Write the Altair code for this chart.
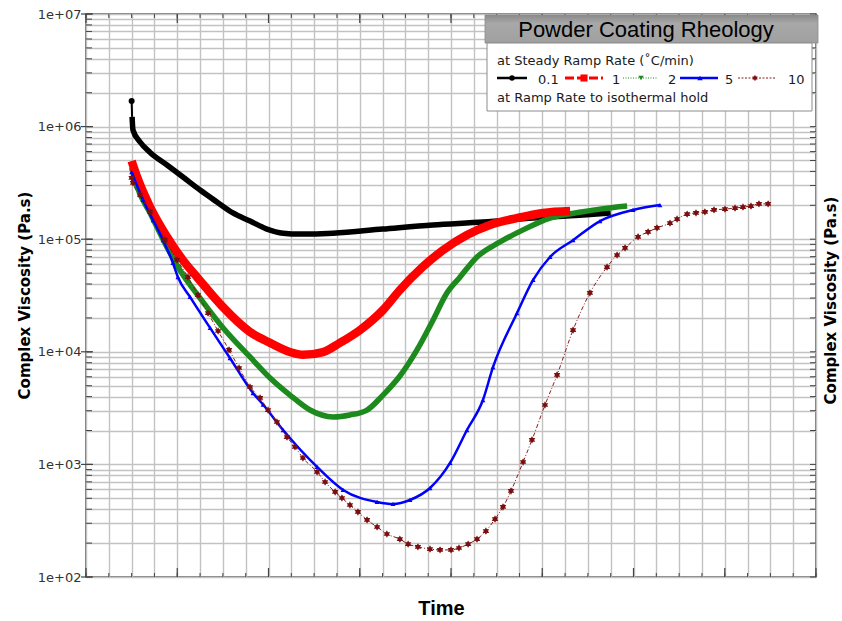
import altair as alt
import pandas as pd

# ---------------- data ----------------
chart_title = "Powder Coating Rheology"
legend_heading = "at Steady Ramp Rate (˚C/min)"
legend_footer = "at Ramp Rate to isothermal hold"
series_names = ["0.1", "1", "2", "5", "10"]
x_title = "Time"
y_title = "Complex Viscosity (Pa.s)"

# 0.1 °C/min (black)
black_t = [2.0, 2.02, 2.06, 2.37, 2.81, 3.55, 4.25, 5.0, 5.74, 6.44, 7.19, 7.93,
           8.64, 9.38, 10.83, 13.0, 15.2, 17.4, 19.6, 21.8, 23.0]
black_v = [1.69e6, 1.22e6, 9.3e5, 7.3e5, 5.9e5, 4.56e5, 3.57e5, 2.73e5, 2.14e5,
           1.71e5, 1.45e5, 1.23e5, 1.13e5, 1.11e5, 1.13e5, 1.23e5, 1.34e5,
           1.42e5, 1.54e5, 1.64e5, 1.71e5]

# 1 °C/min (red)
red_t = [2.0, 2.24, 2.81, 3.55, 4.25, 4.87, 5.96, 7.19, 8.07, 8.94, 9.51, 10.39,
         11.13, 12.01, 13.02, 13.76, 14.77, 15.65, 16.7, 17.71, 18.89, 20.03, 21.22]
red_v = [4.95e5, 3.57e5, 1.93e5, 1.05e5, 6.5e4, 4.6e4, 2.55e4, 1.5e4, 1.2e4,
         9.95e3, 9.4e3, 9.95e3, 1.2e4, 1.56e4, 2.35e4, 3.54e4, 5.7e4, 8.0e4,
         1.09e5, 1.34e5, 1.54e5, 1.71e5, 1.78e5]

# 2 °C/min (green)
green_t = [2.0, 2.24, 2.81, 3.55, 4.12, 5.0, 6.09, 7.19, 8.07, 8.94, 9.82, 10.83,
           11.57, 12.32, 13.02, 13.76, 14.51, 15.21, 15.82, 16.39, 17.14, 18.15,
           19.16, 20.34, 21.79, 22.53, 23.72]
green_v = [4.3e5, 2.91e5, 1.71e5, 8.5e4, 5.3e4, 3.0e4, 1.56e4, 9.0e3, 5.85e3,
           4.13e3, 3.04e3, 2.64e3, 2.75e3, 3.04e3, 4.13e3, 6.1e3, 1.04e4, 1.91e4,
           3.33e4, 4.6e4, 6.95e4, 9.45e4, 1.21e5, 1.54e5, 1.75e5, 1.85e5, 1.97e5]

# 5 °C/min (blue)
blue_t = [2.0, 2.5, 2.94, 3.38, 3.81, 4.03, 4.56, 5.44, 6.31, 7.32, 7.76, 8.64,
          10.13, 11.27, 12.76, 13.46, 14.2, 15.08, 15.96, 16.7, 17.4, 17.84, 18.89,
          19.6, 20.34, 21.35, 22.53, 23.98, 25.16]
blue_v = [3.95e5, 2.23e5, 1.48e5, 9.8e4, 6.15e4, 4.6e4, 3.07e4, 1.63e4, 8.8e3,
          4.3e3, 3.4e3, 2.02e3, 949, 593, 464, 445, 483, 617, 1.03e3, 2.02e3,
          3.73e3, 7.3e3, 2.2e4, 4.35e4, 6.95e4, 9.8e4, 1.45e5, 1.82e5, 2.01e5]

# 10 °C/min (dark red, star markers)
brown_t = [2.0, 2.06, 2.37, 2.81, 3.46, 3.99, 4.47, 4.91, 5.35, 5.79, 6.27, 6.71,
           7.19, 7.63, 7.98, 8.37, 8.81, 9.16, 9.51, 10.13, 10.48, 10.92, 11.22,
           11.57, 11.92, 12.32, 12.76, 13.19, 13.76, 14.12, 14.55, 15.08, 15.52,
           16.0, 16.35, 16.75, 17.14, 17.53, 17.93, 18.28, 18.63, 19.16, 19.55,
           20.12, 20.65, 21.35, 22.09, 22.84, 23.28, 23.63, 24.2, 24.64, 25.03,
           25.6, 25.91, 26.35, 26.74, 27.13, 27.53, 28.01, 28.45, 28.8, 29.15,
           29.5, 29.9]
brown_v = [3.5e5, 3.16e5, 2.47e5, 1.75e5, 9.85e4, 6.54e4, 4.61e4, 3.19e4, 2.21e4,
           1.53e4, 1.04e4, 7.18e3, 4.87e3, 3.89e3, 3.04e3, 2.38e3, 1.75e3, 1.43e3,
           1.14e3, 857, 698, 569, 503, 436, 378, 321, 278, 241, 217, 196, 185, 177,
           174, 174, 181, 196, 217, 256, 327, 419, 581, 1050, 1650, 3370, 6230,
           15600, 33300, 56600, 72400, 83600, 105000, 116000, 126000, 139000,
           151000, 167000, 171000, 175000, 182000, 185000, 189000, 193000, 197000,
           206000, 206000]

# axis grid positions
x_grid = list(range(0, 33))
x_major = [0, 4, 8, 12, 16, 20, 24, 28, 32]
y_decades = [100, 1000, 10000, 100000, 1000000, 10000000]
y_grid = [m * 10 ** d for d in range(2, 7) for m in range(1, 10)] + [10000000]

# ---------------- chart ----------------
W, H = 730, 563
FONT = "DejaVu Sans"

xs = alt.Scale(domain=[0, 32], nice=False, zero=False)
ys = alt.Scale(type="log", domain=[100, 10000000], nice=False)


def df(t, v):
    return pd.DataFrame({"t": t, "v": v})


X = alt.X("t:Q", scale=xs, axis=None)
Y = alt.Y("v:Q", scale=ys, axis=None)

label_expr = ("abs(log(datum.value)/LN10 - round(log(datum.value)/LN10)) < 0.001"
              " ? '1e+0' + round(log(datum.value)/LN10) : ''")

axis_df = pd.DataFrame({"t": [0.0] * len(y_grid), "v": y_grid})
axes_layer = alt.Chart(axis_df).mark_point(opacity=0).encode(
    x=alt.X("t:Q", scale=xs, axis=alt.Axis(
        values=x_grid, grid=True, gridColor="#c2c2c2", gridWidth=1.4,
        labels=False, ticks=False, domain=False, title=x_title,
        titleFont="Liberation Sans", titleFontSize=20, titleFontWeight="bold",
        titleColor="black", titleX=355, titleY=31, titleAlign="center",
        titleBaseline="middle", titleAngle=0)),
    y=alt.Y("v:Q", scale=ys, axis=alt.Axis(
        values=y_grid, grid=True, gridColor="#c2c2c2", gridWidth=1.4,
        labelExpr=label_expr, labelOverlap=False, labelFont=FONT,
        labelFontSize=13, labelColor="#333", labelPadding=5, ticks=False,
        tickSize=0, domain=False, title=y_title, titleFont=FONT,
        titleFontSize=15, titleFontWeight="bold", titleColor="black",
        titleAngle=270, titleX=-62, titleY=281, titleAlign="center",
        titleBaseline="middle")),
)

right_axis_layer = alt.Chart(axis_df).mark_point(opacity=0).encode(
    x=X,
    y=alt.Y("v:Q", scale=ys, axis=alt.Axis(
        orient="right", values=y_decades, grid=False, labels=False, ticks=False,
        domain=False, title=y_title, titleFont=FONT, titleFontSize=15,
        titleFontWeight="bold", titleColor="black", titleAngle=270, titleX=14,
        titleY=286, titleAlign="center", titleBaseline="middle")),
)

# frame ticks (inside the plot, as in the reference)
ygrid_df = pd.DataFrame({"v": y_grid})
ydec_df = pd.DataFrame({"v": y_decades})
xgrid_df = pd.DataFrame({"t": x_grid})
xmaj_df = pd.DataFrame({"t": x_major})
TC = "#444"
tick_layers = [
    alt.Chart(ygrid_df).mark_rule(color=TC, strokeWidth=1).encode(
        y=Y, x=alt.value(0), x2=alt.value(6)),
    alt.Chart(ydec_df).mark_rule(color=TC, strokeWidth=1.2).encode(
        y=Y, x=alt.value(-5), x2=alt.value(7)),
    alt.Chart(ygrid_df).mark_rule(color=TC, strokeWidth=1).encode(
        y=Y, x=alt.value(W), x2=alt.value(W - 6)),
    alt.Chart(xgrid_df).mark_rule(color=TC, strokeWidth=1).encode(
        x=X, y=alt.value(H), y2=alt.value(H - 4)),
    alt.Chart(xmaj_df).mark_rule(color=TC, strokeWidth=1.2).encode(
        x=X, y=alt.value(H), y2=alt.value(H - 9)),
    alt.Chart(xgrid_df).mark_rule(color=TC, strokeWidth=1).encode(
        x=X, y=alt.value(0), y2=alt.value(4)),
    alt.Chart(xmaj_df).mark_rule(color=TC, strokeWidth=1.2).encode(
        x=X, y=alt.value(0), y2=alt.value(9)),
]

STAR = ("M0,-1L0.29,-0.5L0.87,-0.5L0.58,0L0.87,0.5L0.29,0.5L0,1L-0.29,0.5"
        "L-0.87,0.5L-0.58,0L-0.87,-0.5L-0.29,-0.5Z")

C_BLACK, C_RED, C_GREEN, C_BLUE, C_BROWN = "#000000", "#ff0000", "#1c8a1c", "#0000ff", "#8b1a1a"

black_spike = alt.Chart(df(black_t[:2], black_v[:2])).mark_line(
    color=C_BLACK, strokeWidth=2).encode(x=X, y=Y)
black_line = alt.Chart(df(black_t[1:], black_v[1:])).mark_line(
    color=C_BLACK, strokeWidth=5.5, interpolate="monotone").encode(x=X, y=Y)
black_dot = alt.Chart(df(black_t[:1], black_v[:1])).mark_point(
    shape="circle", filled=True, color=C_BLACK, size=36, opacity=1).encode(x=X, y=Y)

green_line = alt.Chart(df(green_t, green_v)).mark_line(
    color=C_GREEN, strokeWidth=5.5, interpolate="monotone").encode(x=X, y=Y)
red_line = alt.Chart(df(red_t, red_v)).mark_line(
    color=C_RED, strokeWidth=8.5, interpolate="monotone").encode(x=X, y=Y)
blue_line = alt.Chart(df(blue_t, blue_v)).mark_line(
    color=C_BLUE, strokeWidth=2.5, interpolate="monotone").encode(x=X, y=Y)
blue_pts = alt.Chart(df(blue_t, blue_v)).mark_point(
    shape="triangle-up", filled=True, color=C_BLUE, size=24, opacity=1).encode(x=X, y=Y)
brown_line = alt.Chart(df(brown_t, brown_v)).mark_line(
    color=C_BROWN, strokeWidth=1, strokeDash=[4, 2, 1, 2],
    interpolate="monotone").encode(x=X, y=Y)
brown_pts = alt.Chart(df(brown_t, brown_v)).mark_point(
    shape=STAR, filled=True, color="#7a0f0f", size=55, opacity=1).encode(x=X, y=Y)

# ---------------- legend box ----------------
one = pd.DataFrame({"k": [0]})
LT = "#1a1a1a"


def txt(s, x, y, size=13, align="left", baseline="alphabetic", font=FONT, color=LT):
    return alt.Chart(one).mark_text(
        text=s, font=font, fontSize=size, align=align, baseline=baseline,
        color=color).encode(x=alt.value(x), y=alt.value(y))


def seg(x1, x2, y, color, width, dash=None):
    kw = dict(color=color, strokeWidth=width)
    if dash:
        kw["strokeDash"] = dash
    return alt.Chart(one).mark_rule(**kw).encode(
        x=alt.value(x1), x2=alt.value(x2), y=alt.value(y))


def sym(shape, x, y, color, size):
    return alt.Chart(one).mark_point(
        shape=shape, filled=True, color=color, size=size, opacity=1).encode(
        x=alt.value(x), y=alt.value(y))


title_bar = alt.Chart(one).mark_rect(
    fill=alt.Gradient(gradient="linear", x1=0, y1=0, x2=0, y2=1,
                      stops=[alt.GradientStop(color="#8a8a8a", offset=0),
                             alt.GradientStop(color="#a8a8a8", offset=0.3),
                             alt.GradientStop(color="#a0a0a0", offset=1)]),
    stroke="#8a8a8a", strokeWidth=0.8).encode(
    x=alt.value(399), x2=alt.value(732), y=alt.value(1), y2=alt.value(29))
legend_box = alt.Chart(one).mark_rect(
    fill="white", stroke="#8c8c8c", strokeWidth=1).encode(
    x=alt.value(401), x2=alt.value(726), y=alt.value(29), y2=alt.value(97))

RY = 64
legend_layers = [
    title_bar, legend_box,
    txt(chart_title, 560, 16, size=22, align="center", baseline="middle",
        font="Liberation Sans", color="#000"),
    txt(legend_heading, 411, 51),
    txt(legend_footer, 411, 88),
    seg(411, 441, RY, C_BLACK, 2.5), sym("circle", 426, RY, C_BLACK, 30),
    txt(series_names[0], 452, 70),
    seg(479, 517, RY, C_RED, 3, [9, 3]), sym("square", 498, RY, C_RED, 50),
    txt(series_names[1], 526, 70),
    seg(537, 571, RY, C_GREEN, 1, [1, 1.5]), sym("triangle-down", 555, RY, C_GREEN, 30),
    txt(series_names[2], 582, 70),
    seg(594, 632, RY, C_BLUE, 2.5), sym("triangle-up", 614, RY, C_BLUE, 30),
    txt(series_names[3], 639, 70),
    seg(652, 689, RY, C_BROWN, 1, [2, 1.5]), sym(STAR, 669, RY, "#7a0f0f", 40),
    txt(series_names[4], 702, 70),
]

chart = alt.layer(
    axes_layer, right_axis_layer, *tick_layers,
    black_spike, black_line, black_dot,
    green_line, red_line, blue_line, blue_pts, brown_line, brown_pts,
    *legend_layers,
).resolve_axis(x="independent", y="independent").properties(
    width=W, height=H,
    autosize=alt.AutoSizeParams(type="none"),
    padding={"left": 86, "top": 14, "right": 26, "bottom": 44},
    background="white",
).configure_view(stroke="#555", strokeWidth=1.6)

chart.save("out.html", embed_options={"renderer": "svg", "actions": False})
